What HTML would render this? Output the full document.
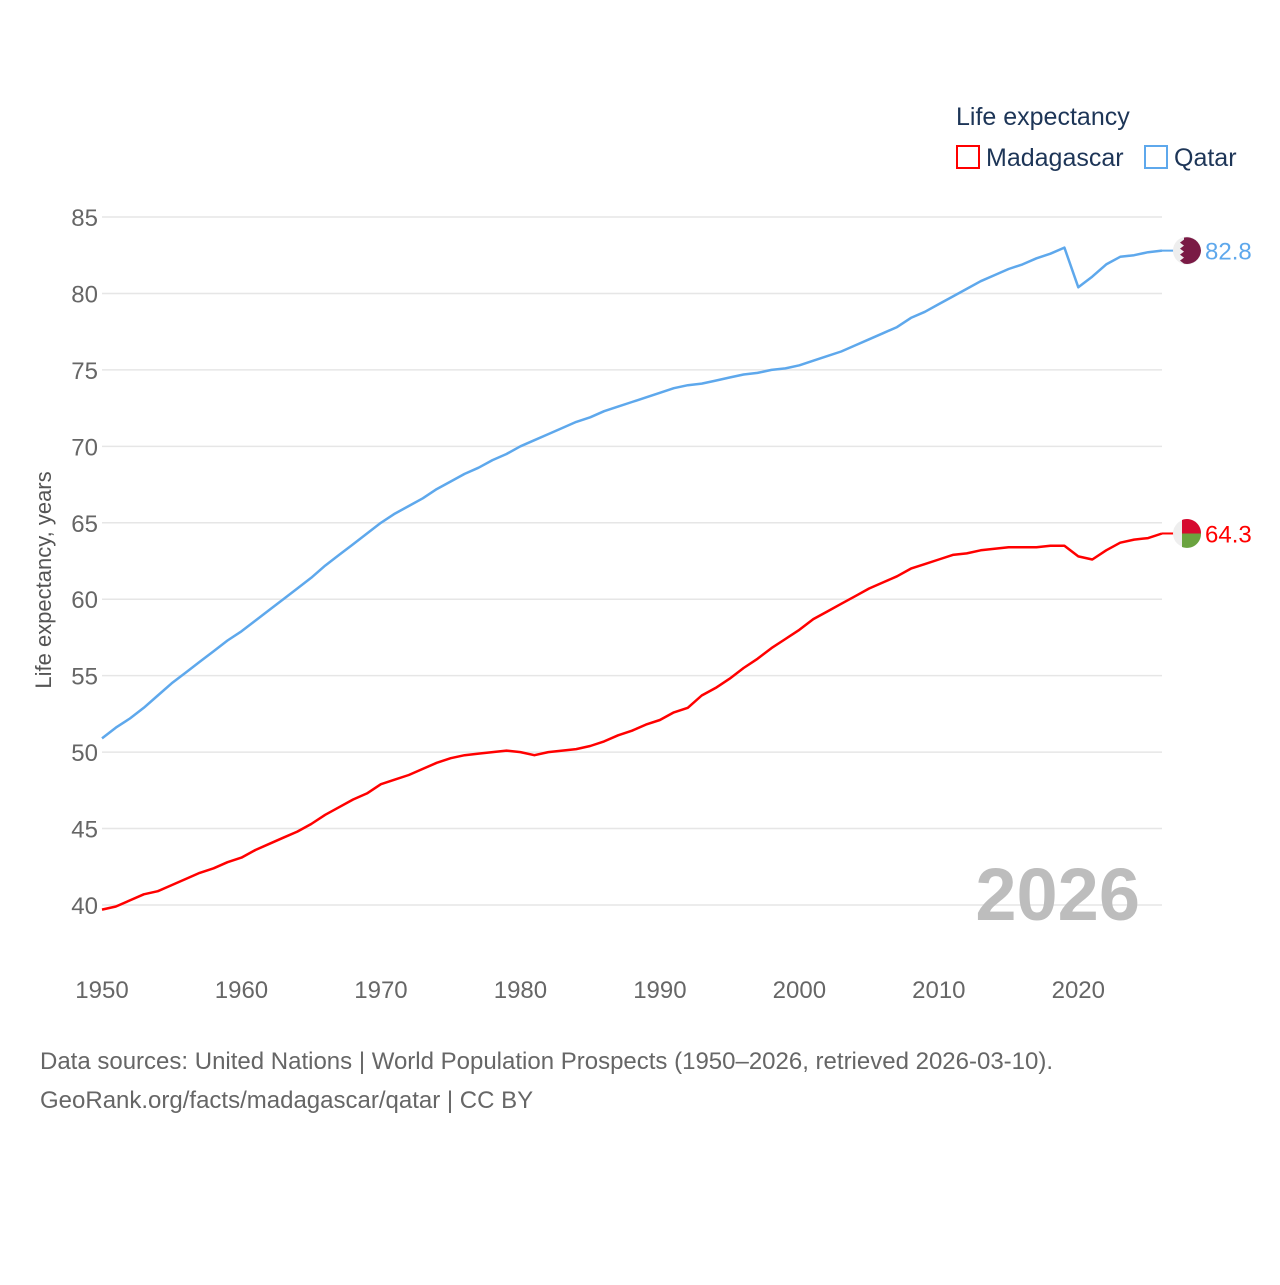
<!DOCTYPE html>
<html><head><meta charset="utf-8">
<style>
html,body{margin:0;padding:0;background:#fff;}
body{width:1280px;height:1280px;overflow:hidden;font-family:"Liberation Sans",sans-serif;}
</style></head>
<body>
<svg id="chart" width="1280" height="1280" xmlns="http://www.w3.org/2000/svg">
  <text x="956" y="125" font-size="25" fill="#1d3557">Life expectancy</text>
  <g>
    <rect x="957" y="146" width="22" height="22" fill="none" stroke="#ff0000" stroke-width="2"/>
    <text x="986" y="166" font-size="25" fill="#1d3557">Madagascar</text>
  </g>
  <g>
    <rect x="1145" y="146" width="22" height="22" fill="none" stroke="#5ea8ec" stroke-width="2"/>
    <text x="1174" y="166" font-size="25" fill="#1d3557">Qatar</text>
  </g>
  <g id="grid"></g>
  <g id="yticks"></g>
  <g id="xticks"></g>
  <text transform="translate(51,580) rotate(-90)" text-anchor="middle" font-size="22" fill="#555">Life expectancy, years</text>
  <text x="1140" y="920" text-anchor="end" font-size="74" font-weight="bold" fill="#bdbdbd">2026</text>
  <g id="series"></g>
  <text x="40" y="1069" font-size="24" fill="#666">Data sources: United Nations | World Population Prospects (1950–2026, retrieved 2026-03-10).</text>
  <text x="40" y="1108" font-size="24" fill="#666">GeoRank.org/facts/madagascar/qatar | CC BY</text>
</svg>
<script>
const years = [];
for (let y = 1950; y <= 2026; y++) years.push(y);
const qatar = [50.9,51.6,52.2,52.9,53.7,54.5,55.2,55.9,56.6,57.3,57.9,58.6,59.3,60.0,60.7,61.4,62.2,62.9,63.6,64.3,65.0,65.6,66.1,66.6,67.2,67.7,68.2,68.6,69.1,69.5,70.0,70.4,70.8,71.2,71.6,71.9,72.3,72.6,72.9,73.2,73.5,73.8,74.0,74.1,74.3,74.5,74.7,74.8,75.0,75.1,75.3,75.6,75.9,76.2,76.6,77.0,77.4,77.8,78.4,78.8,79.3,79.8,80.3,80.8,81.2,81.6,81.9,82.3,82.6,83.0,80.4,81.1,81.9,82.4,82.5,82.7,82.8];
const madagascar = [39.7,39.9,40.3,40.7,40.9,41.3,41.7,42.1,42.4,42.8,43.1,43.6,44.0,44.4,44.8,45.3,45.9,46.4,46.9,47.3,47.9,48.2,48.5,48.9,49.3,49.6,49.8,49.9,50.0,50.1,50.0,49.8,50.0,50.1,50.2,50.4,50.7,51.1,51.4,51.8,52.1,52.6,52.9,53.7,54.2,54.8,55.5,56.1,56.8,57.4,58.0,58.7,59.2,59.7,60.2,60.7,61.1,61.5,62.0,62.3,62.6,62.9,63.0,63.2,63.3,63.4,63.4,63.4,63.5,63.5,62.8,62.6,63.2,63.7,63.9,64.0,64.3];
const yTicks = [40,45,50,55,60,65,70,75,80,85];
const xTicks = [1950,1960,1970,1980,1990,2000,2010,2020];
const NS = "http://www.w3.org/2000/svg";
const x = yr => 102 + (yr - 1950) * (1162 - 102) / 76;
const y = v => 905 - (v - 40) * (905 - 217) / 45;
const grid = document.getElementById('grid'), yt = document.getElementById('yticks'), xt = document.getElementById('xticks'), ser = document.getElementById('series');
function mk(tag, attrs, parent){const e=document.createElementNS(NS,tag);for(const k in attrs)e.setAttribute(k,attrs[k]);parent.appendChild(e);return e;}
yTicks.forEach(t=>{
  const l=mk('line',{x1:102,x2:1162,y1:y(t),y2:y(t),stroke:'#e6e6e6','stroke-width':1.5},grid);
  
  
  const tx=mk('text',{x:98,y:y(t)+9,'text-anchor':'end','font-size':24,fill:'#666'},yt);
  tx.textContent=t;
  
  
});
xTicks.forEach(t=>{
  const tx=mk('text',{x:x(t),y:998,'text-anchor':'middle','font-size':24,fill:'#666'},xt);
  tx.textContent=t;
  
  
});
function line(data,color,name){
  const n=Math.min(data.length,years.length);
  const d=data.slice(0,n).map((v,i)=>(i?'L':'M')+x(years[i]).toFixed(1)+','+y(v).toFixed(1)).join(' ');
  const p=mk('path',{d:d,fill:'none',stroke:color,'stroke-width':2.5,'stroke-linejoin':'round'},ser);
  
  
  const last=data[n-1], ly=y(last);
  mk('line',{x1:1162,x2:1176,y1:ly,y2:ly,stroke:color,'stroke-width':2},ser);
  const lab=mk('text',{x:1205,y:ly+9,'font-size':24,fill:color},ser);
  lab.textContent=last.toFixed(1);
  
  
  return ly;
}
const qy=line(qatar,'#5ea8ec','qatar');
const my=line(madagascar,'#ff0000','madagascar');
const fq=mk('g',{},ser);


mk('circle',{cx:1187,cy:qy,r:14,fill:'#eee'},fq);
mk('path',{d:`M1184,${qy-13} A14,14 0 0 1 1201,${qy} A14,14 0 0 1 1184,${qy+13} L1180,${qy+10} L1184,${qy+7} L1180,${qy+4} L1184,${qy+1} L1180,${qy-2} L1184,${qy-5} L1180,${qy-8} L1184,${qy-11} Z`,fill:'#7a1a45'},fq);
const fm=mk('g',{},ser);


mk('circle',{cx:1187,cy:my,r:14,fill:'#eee'},fm);
mk('path',{d:`M1182,${my} L1182,${my-13.5} A14,14 0 0 1 1201,${my} Z`,fill:'#d60a30'},fm);
mk('path',{d:`M1182,${my} L1201,${my} A14,14 0 0 1 1182,${my+13.5} Z`,fill:'#6aa33f'},fm);
</script>
</body></html>
